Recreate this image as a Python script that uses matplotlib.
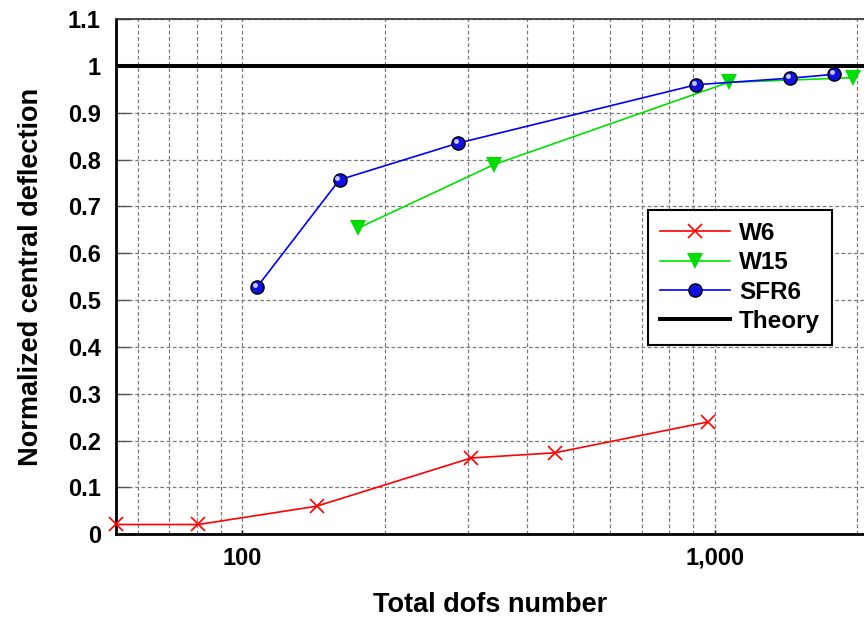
import numpy as np
import matplotlib
matplotlib.use("Agg")
import matplotlib.pyplot as plt
from matplotlib.ticker import FuncFormatter, LogLocator, NullFormatter, MultipleLocator
from matplotlib.transforms import offset_copy

plt.rcParams['font.family'] = ['Liberation Sans', 'DejaVu Sans']
plt.rcParams['font.weight'] = 'bold'

# 数据
w6_dofs = [54, 80.7, 143.5, 305, 458, 967]
w6_defl = [0.021, 0.021, 0.060, 0.163, 0.174, 0.240]

w15_dofs = [176, 340, 1070, 1963]
w15_defl = [0.654, 0.789, 0.965, 0.975]

sfr6_dofs = [107.2, 160.5, 285.5, 914, 1446, 1784]
sfr6_defl = [0.527, 0.757, 0.835, 0.960, 0.974, 0.982]

theory_val = 1.0

fig = plt.figure(figsize=(8.64, 6.17), dpi=100)
ax = fig.add_axes([0.1343, 0.134, 0.8657, 0.835])

ax.set_xscale('log')
ax.set_xlim(54, 2069)
ax.set_ylim(0, 1.1)

# 网格
ax.grid(True, which='major', axis='both', color='#7a7a7a', linestyle=(0, (3, 2)), linewidth=0.9)
ax.grid(True, which='minor', axis='x', color='#7a7a7a', linestyle=(0, (3, 2)), linewidth=0.9)
ax.set_axisbelow(True)

# 理论值
ax.axhline(theory_val, color='black', linewidth=2.9, label='Theory', zorder=2)

# 曲线
ax.plot(w6_dofs, w6_defl, color='#ff0000', linewidth=1.2, marker='x', markersize=10.5,
        markeredgewidth=1.2, label='W6', zorder=3, clip_on=False)
ax.plot(w15_dofs, w15_defl, color='#00e000', linewidth=1.2, marker='v', markersize=11,
        markeredgewidth=0, markerfacecolor='#00dd00', label='W15', zorder=3, clip_on=False)
ax.plot(sfr6_dofs, sfr6_defl, color='#0000ff', linewidth=1.2, marker='o', markersize=9.5,
        markerfacecolor='#1010e0', markeredgecolor='black', markeredgewidth=1.0,
        label='SFR6', zorder=4)
# 球体高光
hl = offset_copy(ax.transData, fig=fig, x=-1.5, y=1.5, units='points')
ax.plot(sfr6_dofs, sfr6_defl, linestyle='none', marker='o', markersize=3.5,
        markerfacecolor='#c8c8ff', markeredgewidth=0, transform=hl, zorder=5)

# 坐标轴
ax.xaxis.set_major_locator(LogLocator(base=10, numticks=10))
ax.xaxis.set_minor_locator(LogLocator(base=10, subs=np.arange(2, 10), numticks=20))
ax.xaxis.set_major_formatter(FuncFormatter(lambda v, p: '{:,.0f}'.format(v)))
ax.xaxis.set_minor_formatter(NullFormatter())
ax.yaxis.set_major_locator(MultipleLocator(0.1))
ax.yaxis.set_major_formatter(FuncFormatter(lambda v, p: '0' if abs(v) < 1e-9 else ('1' if abs(v - 1) < 1e-9 else '{:.1f}'.format(v))))

ax.tick_params(axis='y', direction='in', length=10, width=1.0, color='#555555', pad=11,
               labelsize=17)
ax.tick_params(axis='x', which='major', direction='in', length=3, width=1.0, pad=9, labelsize=17)
ax.tick_params(axis='x', which='minor', direction='in', length=0)

ax.spines['right'].set_visible(False)
ax.spines['left'].set_linewidth(2.0)
ax.spines['bottom'].set_linewidth(2.0)
ax.spines['top'].set_linewidth(1.2)
ax.spines['top'].set_color('#333333')

ax.set_xlabel('Total dofs number', fontsize=19.5, fontweight='bold', labelpad=16)
ax.set_ylabel('Normalized central deflection', fontsize=19.5, fontweight='bold', labelpad=17)

# 图例
handles, labels = ax.get_legend_handles_labels()
order = [labels.index(n) for n in ['W6', 'W15', 'SFR6', 'Theory']]
leg = ax.legend([handles[i] for i in order], [labels[i] for i in order],
                loc='upper left', bbox_to_anchor=(0.711, 0.630), fontsize=17.5,
                fancybox=False, framealpha=1, edgecolor='black', handlelength=2.9,
                borderpad=0.5, labelspacing=0.26, handletextpad=0.35, borderaxespad=0)
leg.get_frame().set_linewidth(1.5)

fig.savefig('out.png', dpi=100)
